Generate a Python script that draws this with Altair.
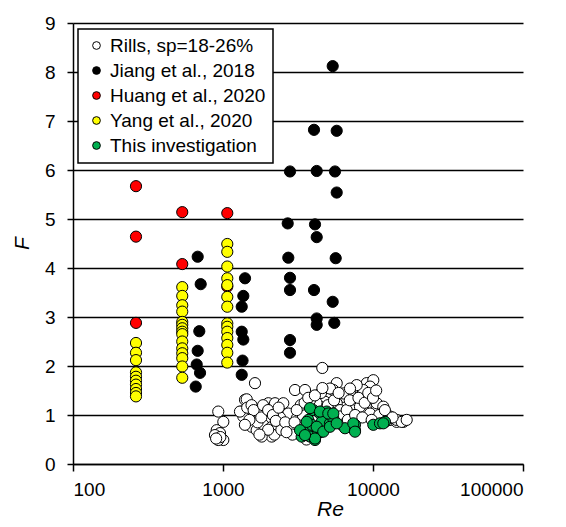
import altair as alt
import pandas as pd

# ---- data ----
rills_re = [930, 1005, 908, 955, 884, 1005, 930, 960, 900,
            1634, 1402, 1439, 1514, 1333, 1366, 1634, 1553, 1677, 1298, 1765,
            2005, 2222, 2523, 2280, 2058, 1856, 1956, 2112, 1811, 2725,
            3020, 3521, 3100, 2942, 3999, 4912, 5728, 5437, 6339, 5728, 6026,
            4786, 4433, 2100, 2200, 2300, 2400, 1900, 1750,
            7786, 9078, 9550, 10046, 8406, 7026, 7391, 9078, 10585, 11714,
            8615, 7211, 12983, 14388, 15922, 6026, 6339, 5168, 9550, 8615,
            7786, 7026, 10585, 11714, 12983, 14388, 15534, 16775, 9550, 8189,
            6678, 3262, 3600, 4000, 4700, 5000, 3400, 2900, 5300, 4200, 3800,
            3300, 4500,
            1450, 1550, 1600, 1700, 1800, 1850, 2000, 2150, 2350, 2450,
            2000, 1500, 1400, 1750, 2250, 2600, 2650,
            3100, 3500, 3700, 4100, 4600, 5000, 5500, 5900, 3000, 6200,
            6800, 7000, 7600, 8000, 8500, 8800, 9300, 10000, 10500, 11000,
            12000, 13500, 9800, 4592]
rills_f = [1.07, 0.86, 0.69, 0.63, 0.59, 0.49, 0.49, 0.55, 0.52,
           1.65, 1.31, 1.32, 1.03, 1.07, 0.97, 0.90, 0.76, 0.69, 1.07, 1.10,
           1.24, 1.24, 1.24, 1.03, 0.90, 0.80, 0.63, 0.56, 0.56, 1.03,
           1.51, 1.51, 0.93, 0.76, 1.37, 1.34, 1.65, 1.51, 1.37, 1.24, 1.10,
           1.27, 1.17, 0.75, 0.60, 0.80, 0.95, 1.15, 1.00,
           1.54, 1.65, 1.48, 1.71, 1.41, 1.48, 1.24, 1.31, 1.17, 1.03,
           1.10, 1.10, 0.90, 0.86, 0.86, 0.97, 1.44, 1.54, 1.58, 1.51,
           1.61, 1.54, 1.24, 1.17, 0.97, 0.90, 0.86, 0.90, 1.03, 1.17,
           1.10, 0.60, 0.50, 0.55, 0.75, 0.90, 1.00, 0.60, 1.05, 1.25, 1.30,
           1.20, 1.45,
           1.15, 1.20, 1.10, 0.85, 0.95, 1.20, 1.10, 1.00, 1.15, 0.70,
           0.70, 0.90, 0.80, 0.60, 0.88, 0.85, 0.65,
           1.10, 1.25, 1.35, 1.40, 1.55, 1.20, 1.30, 1.45, 0.85, 0.80,
           0.90, 1.30, 1.00, 1.35, 0.95, 1.25, 1.45, 1.35, 1.50, 1.00,
           1.10, 0.95, 0.90, 1.96]

jiang_re = [678, 710, 695, 678, 668, 703, 658,
            1402, 1366, 1333, 1333, 1366, 1350, 1333,
            2797, 2700, 2725, 2797, 2797, 2797, 2797,
            4043, 4214, 4105, 4214, 4043, 4214, 4214,
            5387, 5728, 5580, 5728, 5640, 5387, 5520]
jiang_f = [4.23, 3.67, 2.71, 2.31, 2.03, 1.86, 1.58,
           3.79, 3.43, 3.21, 2.70, 2.54, 2.11, 1.82,
           5.97, 4.91, 4.21, 3.80, 3.55, 2.53, 2.27,
           6.82, 5.98, 4.89, 4.63, 3.55, 2.97, 2.84,
           8.12, 6.80, 5.97, 5.54, 4.20, 3.31, 2.88]

huang_re = [263, 263, 263, 535, 535, 1068, 1068]
huang_f = [5.67, 4.64, 2.88, 5.14, 4.08, 5.12, 3.62]

yang_re = [263] * 10 + [535] * 15 + [1068] * 14
yang_f = [2.47, 2.27, 2.12, 1.87, 1.78, 1.70, 1.62, 1.53, 1.45, 1.38,
          3.61, 3.43, 3.24, 3.11, 2.90, 2.84, 2.77, 2.70, 2.65, 2.50,
          2.36, 2.26, 2.16, 1.99, 1.76,
          4.49, 4.33, 4.03, 3.79, 3.65, 3.41, 3.21, 2.87, 2.80, 2.70,
          2.57, 2.43, 2.27, 2.07]

this_re = [3704, 3999, 4433, 4912, 4550, 3614, 3346, 3802, 4319, 4550,
           5168, 5437, 3903, 4105, 3802, 4433, 5035, 3614, 3262, 4214,
           4663, 5168, 4105, 3521, 6506, 7586, 7586, 10046, 11134, 12023,
           5437, 5728, 7391, 7586, 11714]
this_f = [0.90, 1.10, 1.03, 1.07, 0.86, 0.69, 0.56, 0.56, 0.63, 0.66,
          0.83, 0.93, 0.80, 0.49, 1.14, 1.07, 1.03, 0.86, 0.69, 0.76,
          0.66, 0.76, 0.52, 0.59, 0.73, 0.80, 0.69, 0.80, 0.83, 0.86,
          1.03, 0.83, 0.83, 0.66, 0.83]

series = ["Rills, sp=18-26%", "Jiang et al., 2018", "Huang et al., 2020",
          "Yang et al., 2020", "This investigation"]
colors = ["#FFFFFF", "#000000", "#FF0000", "#FFFF00", "#00B050"]

rows = []
for name, xs, ys in zip(series,
                        [rills_re, jiang_re, huang_re, yang_re, this_re],
                        [rills_f, jiang_f, huang_f, yang_f, this_f]):
    for a, b in zip(xs, ys):
        rows.append({"Re": a, "F": b, "Series": name,
                     "ord": series.index(name)})
df = pd.DataFrame(rows)

x_ticks = [100, 1000, 10000, 100000]
y_ticks = list(range(0, 10))

chart = alt.Chart(df).mark_circle(
    size=125, opacity=1, stroke="black", strokeWidth=1
).encode(
    x=alt.X("Re:Q",
            scale=alt.Scale(type="log", domain=[100, 100000], nice=False),
            axis=alt.Axis(values=x_ticks, format="d", title="Re",
                          grid=False, tickSize=7, labelPadding=9,
                          titleFontStyle="italic", titleX=257, titleY=45,
                          titleBaseline="middle")),
    y=alt.Y("F:Q",
            scale=alt.Scale(domain=[0, 9], nice=False),
            axis=alt.Axis(values=y_ticks, title="F", grid=True,
                          tickSize=6, labelPadding=12,
                          titleFontStyle="italic", titleX=-51, titleY=220,
                          titleBaseline="middle")),
    fill=alt.Fill("Series:N",
                  scale=alt.Scale(domain=series, range=colors),
                  legend=alt.Legend(title=None, orient="none",
                                    legendX=5, legendY=6,
                                    fillColor="white", strokeColor="black",
                                    padding=7, labelFontSize=19,
                                    symbolSize=60, symbolType="circle",
                                    symbolStrokeColor="black",
                                    symbolStrokeWidth=1, rowPadding=5,
                                    symbolOffset=2, labelOffset=4)),
    order=alt.Order("ord:Q"),
).properties(
    width=450, height=441,
    autosize=alt.AutoSizeParams(type="none"),
    padding={"left": 65, "top": 15, "right": 35, "bottom": 55},
).configure_view(
    stroke=None
).configure_axis(
    domainColor="black", domainWidth=1.5, tickColor="black", tickWidth=1.5,
    gridColor="black", gridWidth=1.3, gridOpacity=1,
    labelFont="Liberation Sans", labelFontSize=19, labelColor="black",
    titleFont="Liberation Sans", titleFontSize=21, titleColor="black",
    titleFontWeight="normal"
).configure_legend(
    labelFont="Liberation Sans", labelColor="black", strokeWidth=1.5
)

chart.save("out.html", embed_options={"renderer": "svg", "actions": False})
